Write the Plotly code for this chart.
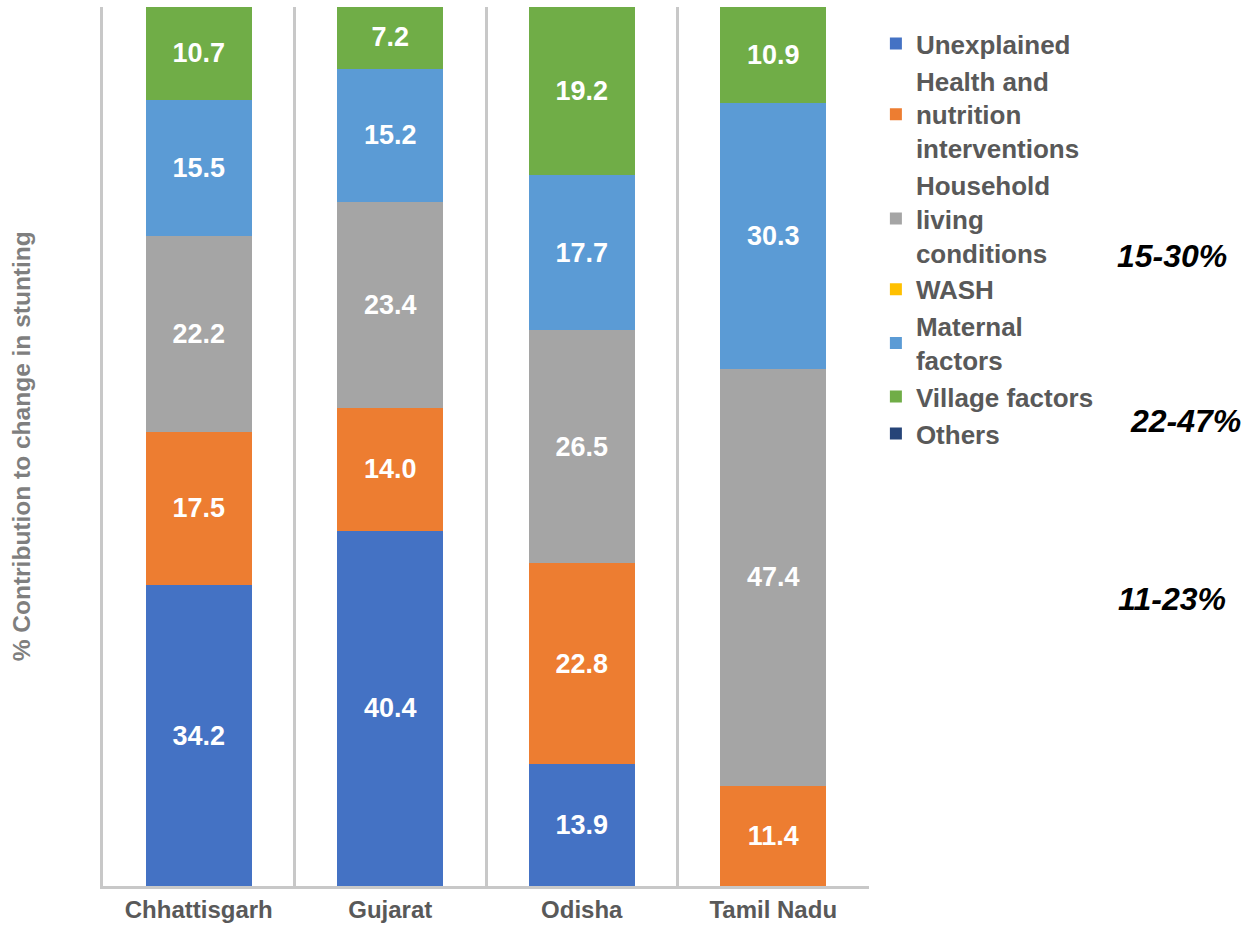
import plotly.graph_objects as go

states = ["Chhattisgarh", "Gujarat", "Odisha", "Tamil Nadu"]

unexplained = [34.2, 40.4, 13.9, None]
health_nutrition = [17.5, 14.0, 22.8, 11.4]
household = [22.2, 23.4, 26.5, 47.4]
wash = [None, None, None, None]
maternal = [15.5, 15.2, 17.7, 30.3]
village = [10.7, 7.2, 19.2, 10.9]
others = [None, None, None, None]

series = [
    ("Unexplained", unexplained, "#4472C4"),
    ("Health and<br>nutrition<br>interventions", health_nutrition, "#ED7D31"),
    ("Household<br>living<br>conditions", household, "#A5A5A5"),
    ("WASH", wash, "#FFC000"),
    ("Maternal<br>factors", maternal, "#5B9BD5"),
    ("Village factors", village, "#70AD47"),
    ("Others", others, "#264478"),
]

range_notes = ["15-30%", "22-47%", "11-23%"]
note_y = [0.717, 0.529, 0.327]
note_x = [1.396, 1.413, 1.396]

FONT = "Liberation Sans, Arial, sans-serif"

fig = go.Figure()
for name, vals, color in series:
    fig.add_trace(go.Bar(
        x=states,
        y=vals,
        name=name,
        marker=dict(color=color, line=dict(width=0)),
        text=[f"{v:.1f}" if v else "" for v in vals],
        textposition="inside",
        insidetextanchor="middle",
        textangle=0,
        constraintext="none",
        textfont=dict(family=FONT, size=27, color="white", weight="bold"),
        hoverinfo="skip",
    ))

for txt, xx, yy in zip(range_notes, note_x, note_y):
    fig.add_annotation(
        text=f"<b><i>{txt}</i></b>", x=xx, y=yy, xref="paper", yref="paper",
        xanchor="center", yanchor="middle", showarrow=False,
        font=dict(family=FONT, size=32, color="black"),
    )

fig.add_annotation(
    text="% Contribution to change in stunting", textangle=-90,
    x=-0.106, y=0.5, xref="paper", yref="paper",
    xanchor="center", yanchor="middle", showarrow=False,
    font=dict(family=FONT, size=24.5, color="#7F7F7F", weight="bold"),
)

fig.update_layout(
    width=1245, height=930,
    margin=dict(l=103, r=376, t=7, b=41),
    barmode="stack",
    bargap=0.447,
    plot_bgcolor="white",
    paper_bgcolor="white",
    font=dict(family=FONT),
    legend=dict(
        x=1.009, y=0.985, xanchor="left", yanchor="top",
        font=dict(family=FONT, size=26, color="#595959", weight="bold"),
        tracegroupgap=0, itemwidth=30, traceorder="normal",
    ),
    xaxis=dict(
        tickson="boundaries", ticks="", showgrid=True,
        gridcolor="#C8C8C8", gridwidth=3,
        showline=True, linecolor="#C8C8C8", linewidth=3,
        tickfont=dict(family=FONT, size=24, color="#595959", weight="bold"),
    ),
    yaxis=dict(
        range=[0, 100], showticklabels=False, showgrid=False,
        zeroline=False, showline=True, linecolor="#C8C8C8", linewidth=3,
    ),
)

fig.write_html("out.html")
